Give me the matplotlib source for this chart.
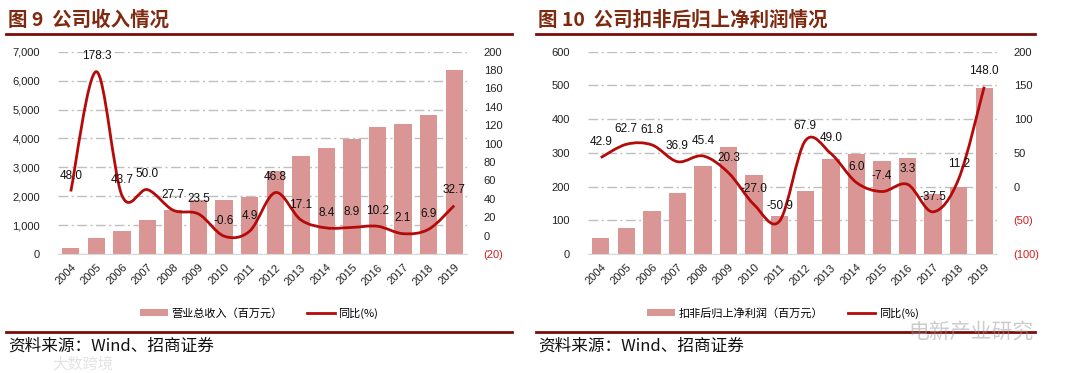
import matplotlib
matplotlib.use("Agg")
import matplotlib.pyplot as plt
from matplotlib.path import Path
from matplotlib.patches import PathPatch, Patch
from matplotlib.lines import Line2D
from matplotlib.ticker import FuncFormatter, FixedLocator

plt.rcParams['font.family'] = ['Liberation Sans', 'Noto Sans CJK SC', 'DejaVu Sans']
CJK = ['Noto Sans CJK SC', 'DejaVu Sans']

years = ['2004', '2005', '2006', '2007', '2008', '2009', '2010', '2011',
         '2012', '2013', '2014', '2015', '2016', '2017', '2018', '2019']

revenue = [200, 555, 800, 1190, 1510, 1880, 1870, 1960,
           2880, 3375, 3660, 3990, 4400, 4490, 4800, 6370]
revenue_yoy = [48.0, 178.3, 43.7, 50.0, 27.7, 23.5, -0.6, 4.9,
               46.8, 17.1, 8.4, 8.9, 10.2, 2.1, 6.9, 32.7]

profit = [47.5, 78, 127, 181, 262, 318, 233, 112,
          187, 282, 297, 275, 285, 178, 198, 491]
profit_yoy = [42.9, 62.7, 61.8, 36.9, 45.4, 20.3, -27.0, -50.9,
              67.9, 49.0, 6.0, -7.4, 3.3, -37.5, 11.2, 148.0]

titles = ['图 9  公司收入情况', '图 10  公司扣非后归上净利润情况']
bar_labels = ['营业总收入（百万元）', '扣非后归上净利润（百万元）']
line_label = '同比(%)'
source = '资料来源：Wind、招商证券'

BAR_C = '#D99694'
LINE_C = '#B50A0A'
TITLE_C = '#7F2A10'
RULE_C = '#7B0C0C'
GRID_C = '#BFBFBF'
NEG_C = '#D02020'

W, H = 1068, 373
fig = plt.figure(figsize=(W / 100, H / 100), dpi=100)


def smooth_path(xs, ys):
    n = len(xs)
    verts = [(xs[0], ys[0])]
    codes = [Path.MOVETO]
    for i in range(n - 1):
        x0, y0 = (xs[i - 1], ys[i - 1]) if i > 0 else (xs[i], ys[i])
        x1, y1 = xs[i], ys[i]
        x2, y2 = xs[i + 1], ys[i + 1]
        x3, y3 = (xs[i + 2], ys[i + 2]) if i + 2 < n else (x2, y2)
        c1 = (x1 + (x2 - x0) / 6, y1 + (y2 - y0) / 6)
        c2 = (x2 - (x3 - x1) / 6, y2 - (y3 - y1) / 6)
        verts += [c1, c2, (x2, y2)]
        codes += [Path.CURVE4] * 3
    return Path(verts, codes)


def paren_fmt(v, pos):
    if v < 0:
        return '(%d)' % abs(v)
    return '%d' % v


def panel(x0px, bars, yoy, lmax, lstep, rmin, rmax, rstep, title, blabel,
          rule_x0, rule_x1, leg_cx):
    ax = fig.add_axes([x0px / W, 1 - 254 / H, 409 / W, (254 - 51.7) / H])
    x = list(range(len(years)))
    ax.bar(x, bars, width=0.68, color=BAR_C, zorder=2)
    ax.set_xlim(-0.5, len(years) - 0.5)
    ax.set_ylim(0, lmax)
    ax.set_yticks(range(0, lmax + 1, lstep))
    ax.yaxis.set_major_formatter(FuncFormatter(lambda v, p: '{:,.0f}'.format(v)))
    ax.set_axisbelow(True)
    ax.yaxis.grid(True, color=GRID_C, linestyle=(0, (7, 2.5, 1.5, 2.5)), linewidth=1.0)
    for s in ['top', 'left', 'right']:
        ax.spines[s].set_visible(False)
    ax.spines['bottom'].set_color('#D9D9D9')
    ax.tick_params(length=0, labelsize=8, colors='#222222')
    ax.tick_params(axis='y', pad=13)
    ax.set_xticks(x)
    ax.set_xticklabels(years, rotation=45, ha='right', rotation_mode='anchor')
    ax.tick_params(axis='x', pad=6)

    ax2 = ax.twinx()
    ax2.set_ylim(rmin, rmax)
    ticks = list(range(rmin, rmax + 1, rstep))
    ax2.yaxis.set_major_locator(FixedLocator(ticks))
    ax2.yaxis.set_major_formatter(FuncFormatter(paren_fmt))
    for s in ax2.spines.values():
        s.set_visible(False)
    ax2.tick_params(length=0, labelsize=8, colors='#222222', pad=12)
    for lab, t in zip(ax2.get_yticklabels(), ticks):
        if t < 0:
            lab.set_color(NEG_C)
    ax2.add_patch(PathPatch(smooth_path(x, yoy), facecolor='none',
                            edgecolor=LINE_C, linewidth=2.0, zorder=3))
    for xi, v in zip(x, yoy):
        ax2.annotate('%.1f' % v, (xi, v), xytext=(0, 11), textcoords='offset points',
                     ha='center', va='center', fontsize=8.5, color='#111111', zorder=4)

    # title and rules
    fig.text((rule_x0 + 2) / W, 1 - 20 / H, title, fontsize=14, fontweight='bold',
             color=TITLE_C, family=CJK, va='center', ha='left')
    fig.add_artist(Line2D([rule_x0 / W, rule_x1 / W], [1 - 34 / H] * 2,
                          color=RULE_C, linewidth=2.0))
    fig.add_artist(Line2D([rule_x0 / W, rule_x1 / W], [1 - 332 / H] * 2,
                          color=RULE_C, linewidth=2.0))
    fig.text((rule_x0 + 2) / W, 1 - 346 / H, source, fontsize=12,
             color='#111111', family=CJK, va='center', ha='left')

    handles = [Patch(facecolor=BAR_C, edgecolor='none'),
               Line2D([], [], color=LINE_C, linewidth=2.0)]
    fig.legend(handles, [blabel, line_label], loc='center',
               bbox_to_anchor=(leg_cx / W, 1 - 313 / H), ncol=2, frameon=False,
               prop={'family': CJK, 'size': 8}, handlelength=2.5,
               handleheight=0.7, columnspacing=2.2, handletextpad=0.3)
    return ax, ax2


panel(58, revenue, revenue_yoy, 7000, 1000, -20, 200, 20, titles[0], bar_labels[0],
      6, 512, 259)
panel(588, profit, profit_yoy, 600, 100, -100, 200, 50, titles[1], bar_labels[1],
      536, 1035, 783)

# watermarks
fig.text(1034 / W, 1 - 332 / H, '电新产业研究', fontsize=15, color='#9A9A9A', alpha=0.5,
         family=CJK, ha='right', va='center')
fig.text(52 / W, 1 - 364 / H, '大数跨境', fontsize=11, color='#C8C8C8', alpha=0.5,
         family=CJK, ha='left', va='center')

fig.savefig('out.png', dpi=100, facecolor='white')
